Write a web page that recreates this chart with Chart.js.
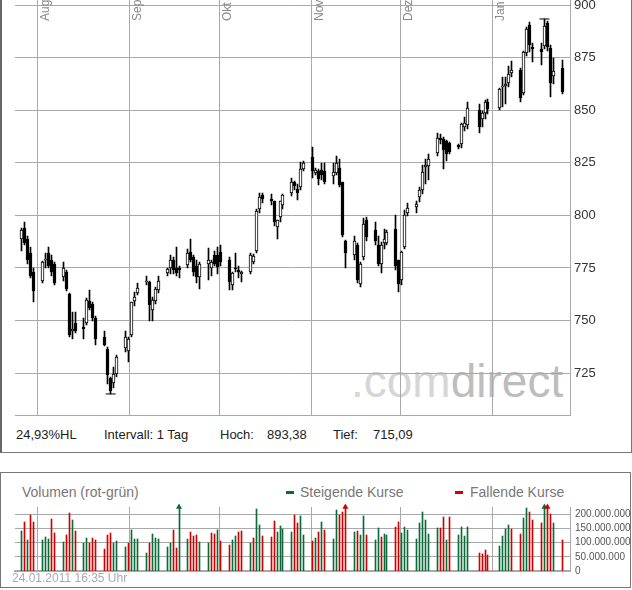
<!DOCTYPE html>
<html>
<head>
<meta charset="utf-8">
<script src="https://cdn.jsdelivr.net/npm/chart.js@4.4.0/dist/chart.umd.min.js"></script>
<style>
  body { margin: 0; width: 632px; height: 590px; overflow: hidden; background: #fff; position: relative;
         font-family: "Liberation Sans", Arial, sans-serif; }
  .abs { position: absolute; white-space: nowrap; }
  #pbox { left: 0; top: -10px; width: 629px; height: 461px; border: 1px solid #777; border-left: 2px solid #666; }
  #vbox { left: 0; top: 472px; width: 629px; height: 114px; border: 1px solid #777; }
  .info { top: 427px; font-size: 13px; line-height: 15px; color: #222; }
  .vtxt { top: 484px; font-size: 14px; line-height: 16px; color: #777; }
  .dash { top: 491px; width: 8px; height: 3px; }
  #wm { left: 351px; top: 358px; font-size: 46px; line-height: 46px; }
  #stamp { left: 12px; top: 571px; font-size: 12px; line-height: 14px; color: #aaa; }
</style>
</head>
<body>
<div id="pbox" class="abs"></div>
<div id="wm" class="abs"><span style="color:#d6d6d6">.com</span><span style="color:#bdbdbd">direct</span></div>
<canvas id="kurs" class="abs" style="left:0;top:-20px" width="632" height="447"></canvas>

<span class="abs info" style="left:16px">24,93%HL</span>
<span class="abs info" style="left:104px">Intervall: 1 Tag</span>
<span class="abs info" style="left:220px">Hoch:</span>
<span class="abs info" style="left:267px">893,38</span>
<span class="abs info" style="left:333px">Tief:</span>
<span class="abs info" style="left:373px">715,09</span>

<div id="vbox" class="abs"></div>
<span class="abs vtxt" style="left:22px">Volumen (rot-grün)</span>
<div class="abs dash" style="left:286px;background:#0a6a3a"></div>
<span class="abs vtxt" style="left:300px">Steigende Kurse</span>
<div class="abs dash" style="left:455px;background:#d10000"></div>
<span class="abs vtxt" style="left:470px">Fallende Kurse</span>
<canvas id="vol" class="abs" style="left:0;top:482px" width="632" height="100"></canvas>
<span id="stamp" class="abs">24.01.2011 16:35 Uhr</span>

<script>
// Handelstage als Tage ab 01.08.2010
const days = [
  -6, -5, -4, -3, -2,   1, 2, 3, 4, 5,   8, 9, 10, 11, 12,   15, 16, 17, 18, 19,
  22, 23, 24, 25, 26,   29, 30, 31, 32, 33,   36, 37, 38, 39, 40,   43, 44, 45, 46, 47,
  50, 51, 52, 53, 54,   57, 58, 59, 60, 61,   64, 65, 66, 67, 68,   71, 72, 73, 74, 75,
  78, 79, 80, 81, 82,   85, 86, 87, 88, 89,   92, 93, 94, 95, 96,   99, 100, 101, 102, 103,
  106, 107, 108, 109, 110,   113, 114, 115, 116, 117,   120, 121, 122, 123, 124,
  127, 128, 129, 130, 131,   134, 135, 136, 137, 138,   141, 142, 143, 144,
  148, 149, 150, 151,   155, 156, 157, 158, 159,   162, 163, 164, 165, 166,
  169, 170, 171, 172, 173,   176
];
const opens = [
  789, 794, 789, 782, 773,   769, 779, 782, 779, 776.7,   770.5, 773, 762.4, 745.2, 749,
  747.1, 749, 759.5, 758, 751.4,   742.4, 736.7, 722.9, 720.5, 724.8,   737, 735.7, 743.3, 759.5, 763.3,
  768.1, 768.1, 754.8, 759.5, 764.3,   772.4, 774.8, 779, 775.2, 775,   776.2, 782.4, 780, 776, 770.5,
  777.1, 774.8, 781, 781, 782.4,   779, 766.7, 775.2, 773.8, 771.9,   773.3, 778, 783, 802.9, 809.5,
  808, 806.7, 794.3, 799, 804.8,   810.5, 815.7, 812.4, 813.3, 821.9,   827.6, 820, 821, 821.4, 821,
  818.6, 820, 822.4, 815.7, 788,   781, 785.7, 767.6, 780, 797.6,   792.9, 785.7, 777.1, 786.7, 786.7,
  793.3, 778.6, 769.5, 785, 801,   803.8, 808.6, 811.9, 822.9, 823.3,   829.5, 836.7, 836.5, 835.2, 834.3,
  833.3, 833.8, 841.9, 842.9,   850, 845.7, 848.6, 853.8,   851, 861, 861.4, 862.9, 867.6,
  869, 858.1, 877.1, 890.5, 880,   879, 880.5, 891.4, 879.5, 866.5,   870
];
const highs = [
  794, 797, 790, 785, 775,   778.5, 782, 785, 781, 778,   777.6, 774, 763, 754.3, 754,
  751, 760.5, 764.3, 759, 752,   744.8, 737.6, 723, 728, 733.5,   745, 742, 759, 763.8, 768,
  771, 769, 761, 766, 771,   775, 781, 780, 784.8, 776,   784, 788.6, 781, 779, 778,
  784.3, 779, 783, 785, 785.7,   780, 773, 781.9, 776, 773.5,   782, 781.5, 803, 810.5, 810.5,
  810, 807, 798, 807, 810,   818, 816.5, 815, 825.2, 826,   832.4, 822.5, 822, 825, 825,
  824.8, 828, 827, 816, 788.5,   790, 787, 778, 798.6, 799,   797, 790, 787.5, 793.3, 793,
  800, 779, 783, 802.4, 805.7,   807, 813.5, 823.8, 827, 829,   839, 838.5, 837.5, 836, 835,
  834, 844, 847, 853.8,   853, 849.5, 855, 855.5,   860.5, 866, 866, 871, 873.5,
  870, 878, 889.5, 891.9, 882,   882, 893.38, 892.5, 881, 875,   873.8
];
const lows = [
  783, 786, 777, 770, 759,   768, 775, 775, 771, 767,   769, 764, 742, 741, 744,
  741.4, 748, 755, 750, 738.6,   738, 720, 715.09, 718, 723,   735, 730.5, 742, 757, 762,
  767, 750, 750, 758, 763,   771, 772, 772, 771, 770,   775, 778, 771, 768, 765,
  769.5, 771, 776, 772, 776,   764.3, 764.3, 773, 770, 768.5,   772, 777, 782, 801, 806,
  805, 794.8, 789, 797, 803,   809, 812, 807.5, 812, 821,   818, 819, 814.5, 817, 815,
  815, 819, 813.5, 789.5, 775.2,   779, 768, 766, 779, 788,   786, 776, 772.4, 784, 786,
  774, 763.8, 767, 784, 799.5,   801, 806.5, 810, 815, 817,   828, 834, 821.9, 826, 829,
  831.5, 832, 840, 841,   839, 842, 846, 848,   850, 851.6, 853, 861, 866,
  854, 857, 876, 877.5, 873,   871.4, 879, 878, 856.2, 862.4,   857.5
];
const closes = [
  793, 787, 779, 771, 764,   777.6, 779.5, 776, 773, 768,   774.8, 765.2, 743.3, 746.2, 745.2,
  746.2, 760, 756.2, 751, 741.4,   738.6, 724.3, 716.7, 724.8, 732.9,   742.4, 741, 758.6, 761.4, 765.7,
  769, 757.6, 760, 765.2, 769,   774.3, 779, 773.8, 772.4, 774,   781.9, 779, 772.9, 770.5, 777,
  778.6, 777.6, 777, 775.5, 777.6,   768.1, 772.4, 774.3, 773, 772.9,   781.4, 780.5, 802, 808.6, 807.6,
  806.7, 796.7, 797.6, 806.7, 809.5,   815.7, 813.8, 810.5, 821.9, 824.8,   821, 821.4, 817.1, 819, 816,
  820.5, 824.8, 814.3, 790.9, 781.9,   788, 769.5, 777.1, 795.7, 789.5,   787.6, 777.1, 785.7, 789, 791.9,
  775.7, 767.6, 782.4, 800, 803.3,   805.2, 812, 820.5, 823.8, 827,   836.7, 835.7, 831, 829, 830,
  832.4, 843.3, 843.8, 851,   841.9, 848.6, 853.8, 850.5,   860, 861.4, 862.4, 867, 869,
  855.7, 877.6, 888.6, 881, 879,   877.6, 890, 880, 862.9, 868.6,   858.6
];
// Umsatz in Mio. Stück und Farbe der Säule (g = steigend, r = fallend)
const volumes = [
  142, 173, 110, 197, 173,   110, 121, 114, 184, 135,   101, 128, 204, 180, 139,   98, 117, 97, 117, 110,
  79, 128, 135, 97, 107,   86, 97, 145, 114, 114,   65, 97, 131, 117, 114,   86, 100, 145, 82, 260,
  114, 138, 124, 128, 101,   97, 135, 131, 145, 107,   93, 110, 124, 138, 142,   97, 117, 218, 162, 124,
  121, 176, 138, 159, 149,   138, 197, 169, 193, 128,   107, 117, 138, 173, 145,   114, 215, 197, 208, 260,
  138, 142, 128, 193, 128,   109, 150, 120, 130, 128,   155, 173, 135, 155, 145,
  114, 169, 207, 180, 131,   152, 152, 190, 110, 190,   128, 155, 124, 155,
  64, 61, 74, 57,   88, 122, 146, 160, 146,   129, 187, 222, 208, 181,
  170, 260, 260, 201, 167,   109
];
const volDir = [
  'g','r','g','r','r',  'g','g','g','r','r',  'g','r','r','g','r',  'g','g','r','r','r',
  'r','r','r','g','g',  'g','r','g','g','g',  'g','r','g','g','g',  'g','g','r','r','g',
  'g','r','r','r','g',  'g','r','r','g','r',  'r','g','g','r','r',  'g','r','g','g','r',
  'r','r','g','g','g',  'g','r','r','g','g',  'r','g','r','g','r',  'g','g','r','r','r',
  'g','r','g','g','r',  'g','g','r','g','g',  'r','r','g','g','g',
  'g','g','g','g','g',  'g','r','r','g','r',  'g','g','g','g',
  'r','r','r','r',  'g','g','g','g','r',  'r','g','g','r','r',
  'r','g','r','r','g',  'r'
];
const months = ['Aug', 'Sep', 'Okt', 'Nov', 'Dez', 'Jan'];
const monthStarts = [0, 31, 61, 92, 122, 153];
const priceTicks = [725, 750, 775, 800, 825, 850, 875, 900];
const volTicks = [0, 50, 100, 150, 200];

const GRID = '#a9a9a9';
const GREEN = '#0a6a3a';
const RED = '#d10000';
const FONT = '"Liberation Sans", Arial, sans-serif';
const X_MIN = -8.2, X_MAX = 178.6;
const VOL_MAX = 225;

const hiIdx = highs.indexOf(Math.max(...highs));
const loIdx = lows.indexOf(Math.min(...lows));

// Balken auf ganze Pixel setzen, sonst verschwimmen die schmalen Kerzen
const snap = {
    id: 'snap',
    afterDatasetsUpdate(chart) {
        chart.data.datasets.forEach((ds, i) => {
            const meta = chart.getDatasetMeta(i);
            if (meta.type !== 'bar') return;
            meta.data.forEach(el => {
                el.x = Math.floor(el.x) + 0.5;
                el.y = Math.round(el.y);
                el.base = Math.round(el.base);
            });
        });
    }
};

const monthLabels = {
    id: 'monthLabels',
    beforeDatasetsDraw(chart) {
        const {ctx, chartArea, scales: {x}} = chart;
        ctx.save();
        ctx.fillStyle = '#888';
        ctx.font = '12px ' + FONT;
        months.forEach((m, i) => {
            const px = x.getPixelForValue(monthStarts[i] - 0.5);
            ctx.save();
            ctx.translate(px + 11.5, chartArea.top + 21);
            ctx.rotate(-Math.PI / 2);
            ctx.fillText(m, 0, 0);
            ctx.restore();
        });
        ctx.restore();
    }
};

const monthGrid = s => { s.ticks = monthStarts.map(d => ({value: d - 0.5})); };

const xScale = {
    type: 'linear', min: X_MIN, max: X_MAX, offset: false,
    afterBuildTicks: monthGrid,
    ticks: {display: false},
    grid: {color: GRID, drawTicks: false, offset: false},
    border: {color: GRID}
};

Chart.defaults.font.family = FONT;

// === Kurschart (Kerzen) ===
new Chart(document.getElementById('kurs'), {
    type: 'bar',
    data: {
        datasets: [
            {
                type: 'scatter',
                data: [{x: days[hiIdx], y: highs[hiIdx]}, {x: days[loIdx], y: lows[loIdx]}],
                pointStyle: 'line', radius: 5, borderColor: '#000', borderWidth: 1,
                order: 1
            },
            {
                data: days.map((d, i) => ({x: d, y: [opens[i], closes[i]]})),
                backgroundColor: days.map((d, i) => closes[i] >= opens[i] ? '#fff' : '#000'),
                borderColor: '#000', borderWidth: 1, borderSkipped: false,
                barThickness: 3, grouped: false, order: 2
            },
            {
                data: days.map((d, i) => ({x: d, y: [lows[i], highs[i]]})),
                backgroundColor: '#000', barThickness: 1, grouped: false, order: 3
            }
        ]
    },
    options: {
        responsive: false, animation: false, events: [],
        layout: {padding: {left: 15, top: 20, right: 0, bottom: 0}},
        plugins: {legend: {display: false}, tooltip: {enabled: false}},
        scales: {
            x: xScale,
            y: {
                position: 'right', min: 705, max: 902.4,
                afterBuildTicks: s => { s.ticks = priceTicks.map(v => ({value: v})); },
                afterFit: s => { s.width = 62; },
                ticks: {color: '#333', font: {size: 13}, padding: 4},
                grid: {color: GRID, drawTicks: false},
                border: {color: GRID}
            }
        }
    },
    plugins: [snap, monthLabels]
});

// === Volumen ===
const overIdx = volumes.map((v, i) => v > VOL_MAX ? i : -1).filter(i => i >= 0);
const dots = n => String(n).replace(/\B(?=(\d{3})+(?!\d))/g, '.');

new Chart(document.getElementById('vol'), {
    type: 'bar',
    data: {
        datasets: [
            {
                type: 'scatter',
                data: overIdx.map(i => ({x: days[i], y: VOL_MAX})),
                pointStyle: 'triangle', radius: 3.5, borderWidth: 0,
                backgroundColor: overIdx.map(i => volDir[i] === 'g' ? GREEN : RED),
                clip: false, order: 1
            },
            {
                data: days.map((d, i) => ({x: d, y: volumes[i]})),
                backgroundColor: volDir.map(c => c === 'g' ? GREEN : RED),
                barThickness: 1, grouped: false, order: 2
            }
        ]
    },
    options: {
        responsive: false, animation: false, events: [],
        layout: {padding: {left: 15, top: 25, right: 0, bottom: 9}},
        plugins: {legend: {display: false}, tooltip: {enabled: false}},
        scales: {
            x: {...xScale, border: {color: GRID, width: 2}},
            y: {
                position: 'right', min: 0, max: VOL_MAX,
                afterBuildTicks: s => { s.ticks = volTicks.map(v => ({value: v})); },
                afterFit: s => { s.width = 62; },
                ticks: {color: '#555', font: {size: 10}, padding: 5, callback: v => dots(v * 1000000)},
                grid: {color: GRID, drawTicks: false},
                border: {color: GRID}
            }
        }
    },
    plugins: [snap]
});
</script>
</body>
</html>
